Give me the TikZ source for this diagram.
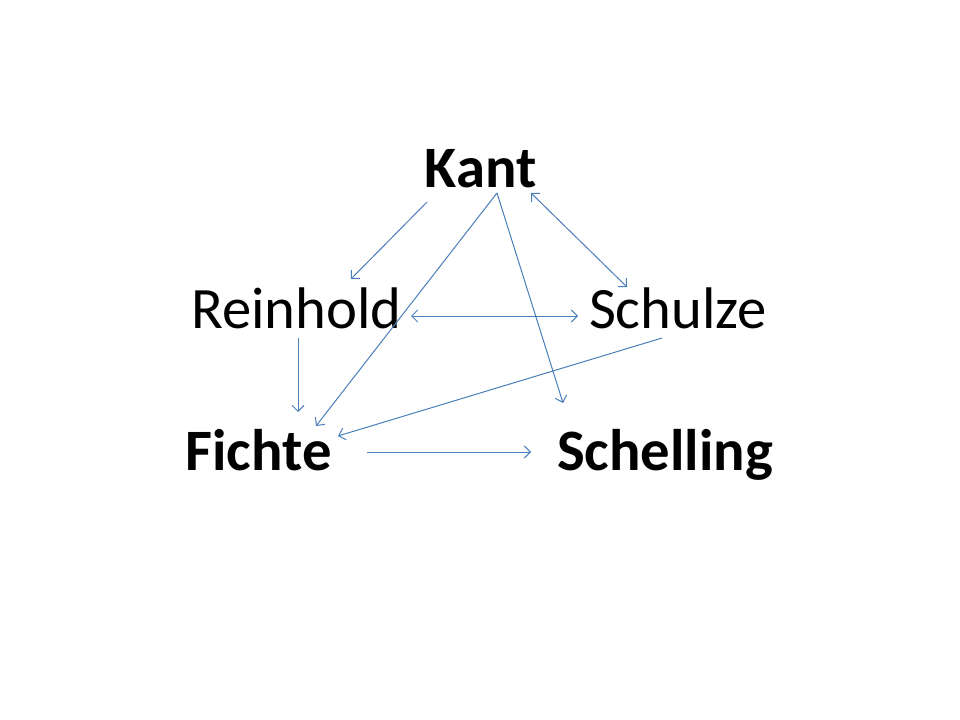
\documentclass[tikz,border=0pt]{standalone}
\usepackage{fontspec}
\setmainfont{Carlito}
\usetikzlibrary{arrows.meta}
\definecolor{linkblue}{HTML}{4A7EBB}
\begin{document}
\begin{tikzpicture}[x=0.75pt, y=-0.75pt,
    thinker/.style={draw = none, inner sep=0pt, anchor=base, font=\fontsize{44}{52}\selectfont},
    major/.style={thinker, font=\fontsize{44}{52}\selectfont\bfseries},
    link/.style={linkblue, line width=0.75pt, -{Straight Barb[length=4.5pt, width=9pt]}},
    both/.style={link, {Straight Barb[length=4.5pt, width=9pt]}-{Straight Barb[length=4.5pt, width=9pt]}}]
    \useasboundingbox[fill=white] (0,0) rectangle (960,720);

    % Nomes
    \node[major] (kant) at (480.5,188) {Kant};
    \node[thinker] (reinhold) at (296.5,328) {Reinhold};
    \node[thinker] (schulze) at (678,328) {Schulze};
    \node[major] (fichte) at (258.5,470) {Fichte};
    \node[major] (schelling) at (665,470) {Schelling};

    % Setas que saem de Kant
    \draw[link] ([shift={(-53.5,14)}]kant.base) -- ([shift={(54.5,-49)}]reinhold.base);
    \draw[link] ([shift={(16.5,5)}]kant.base) -- ([shift={(57.5,-44)}]fichte.base);
    \draw[link] ([shift={(16.5,5)}]kant.base) -- ([shift={(-102,-67)}]schelling.base);
    \draw[both] ([shift={(50.5,5)}]kant.base) -- ([shift={(-51,-41)}]schulze.base);

    % Setas do meio
    \draw[both] ([shift={(114.5,-12)}]reinhold.base) -- ([shift={(-100,-12)}]schulze.base);
    \draw[link] ([shift={(1.5,10)}]reinhold.base) -- ([shift={(39.5,-58)}]fichte.base);
    \draw[link] ([shift={(-16,10)}]schulze.base) -- ([shift={(79.5,-34)}]fichte.base);

    % Seta de baixo
    \draw[link] ([shift={(108.5,-18)}]fichte.base) -- ([shift={(-134,-18)}]schelling.base);
\end{tikzpicture}
\end{document}
